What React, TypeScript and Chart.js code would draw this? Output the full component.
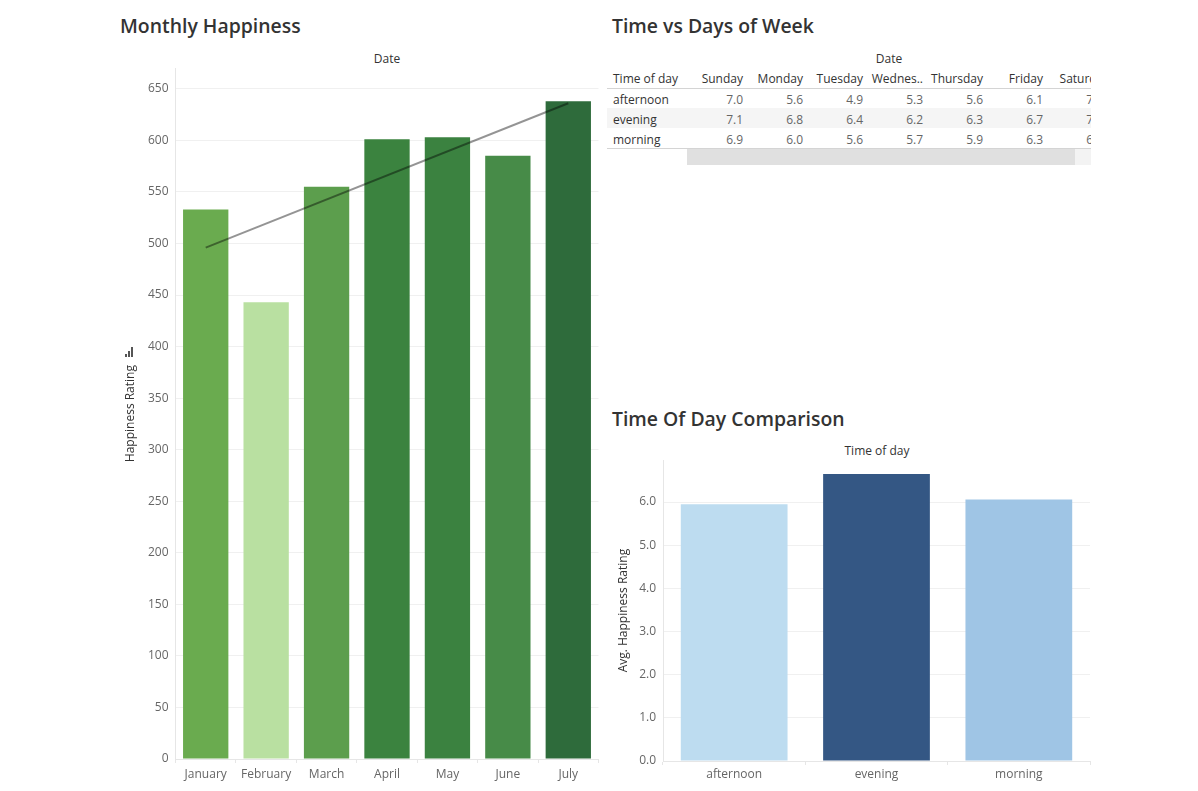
import React, { useEffect, useRef } from 'react';
import { Chart, registerables } from 'chart.js';

Chart.register(...registerables);

// ---------- Data ----------
const months = ['January', 'February', 'March', 'April', 'May', 'June', 'July'];
const monthlyHappiness = [533, 443, 555, 601, 603, 585, 638];
const monthColors = ['#6aab4f', '#b9e0a1', '#5c9e4d', '#3b833f', '#3b8240', '#478b48', '#2e6b3b'];
const trendLine: (number | null)[] = [496, null, null, null, null, null, 636];

const timesOfDay = ['afternoon', 'evening', 'morning'];
const avgHappiness = [5.95, 6.65, 6.06];
const timeColors = ['#bddcf0', '#345784', '#9fc5e5'];

const dayLabels = ['Sunday', 'Monday', 'Tuesday', 'Wednes..', 'Thursday', 'Friday', 'Saturd..'];
const afternoonByDay = [7.0, 5.6, 4.9, 5.3, 5.6, 6.1, 7.1];
const eveningByDay = [7.1, 6.8, 6.4, 6.2, 6.3, 6.7, 7.0];
const morningByDay = [6.9, 6.0, 5.6, 5.7, 5.9, 6.3, 6.0];
const tableRows = [afternoonByDay, eveningByDay, morningByDay];

const FONT = "'Open Sans', 'DejaVu Sans', sans-serif";
Chart.defaults.font.family = FONT;

function MonthlyChart() {
  const ref = useRef<HTMLCanvasElement>(null);
  useEffect(() => {
    const chart = new Chart(ref.current!, {
      type: 'bar',
      data: {
        labels: months,
        datasets: [
          {
            type: 'line',
            data: trendLine as any,
            borderColor: 'rgba(0,0,0,0.42)',
            borderWidth: 2,
            pointRadius: 0,
            spanGaps: true,
            order: 0,
          } as any,
          {
            type: 'bar',
            data: monthlyHappiness,
            backgroundColor: monthColors,
            barPercentage: 0.75,
            categoryPercentage: 1,
            order: 1,
          },
        ],
      },
      options: {
        animation: false,
        responsive: false,
        maintainAspectRatio: false,
        layout: { padding: { top: 6, right: 1.5, left: 0, bottom: 0 } },
        plugins: { legend: { display: false }, tooltip: { enabled: false } },
        scales: {
          x: {
            grid: { drawOnChartArea: false, tickLength: 4, color: '#e6e6e6' },
            border: { color: '#e6e6e6' },
            ticks: { color: '#666', font: { size: 12 }, padding: 4 },
            afterFit: (s: any) => { s.height = 32; },
          },
          y: {
            min: 0,
            max: 670,
            ticks: { stepSize: 50, includeBounds: false, color: '#666', padding: 7, font: { size: 12 } },
            grid: { color: '#f0f0f0', drawTicks: false },
            border: { color: '#e6e6e6' },
            title: { display: true, text: 'Happiness Rating', color: '#333', font: { size: 12 }, padding: { top: 13.5, bottom: 0 } },
            afterFit: (s: any) => { s.width = 65.5; },
          },
        },
      },
    });
    return () => chart.destroy();
  }, []);
  return <canvas ref={ref} width={490} height={737} style={{ position: 'absolute', left: 110, top: 54, width: 490, height: 737 }} />;
}

function TimeOfDayChart() {
  const ref = useRef<HTMLCanvasElement>(null);
  useEffect(() => {
    const chart = new Chart(ref.current!, {
      type: 'bar',
      data: {
        labels: timesOfDay,
        datasets: [
          {
            data: avgHappiness,
            backgroundColor: timeColors,
            barPercentage: 0.75,
            categoryPercentage: 1,
          },
        ],
      },
      options: {
        animation: false,
        responsive: false,
        maintainAspectRatio: false,
        layout: { padding: { top: 5, right: 5, left: 0, bottom: 0 } },
        plugins: { legend: { display: false }, tooltip: { enabled: false } },
        scales: {
          x: {
            grid: { drawOnChartArea: false, tickLength: 4, color: '#e6e6e6' },
            border: { color: '#e6e6e6' },
            ticks: { color: '#666', font: { size: 12 }, padding: 2 },
            afterFit: (s: any) => { s.height = 31; },
          },
          y: {
            min: 0,
            max: 6.97,
            ticks: {
              stepSize: 1,
              includeBounds: false,
              color: '#666',
              padding: 7,
              font: { size: 12 },
              callback: (v: any) => Number(v).toFixed(1),
            },
            grid: { color: '#f0f0f0', drawTicks: false },
            border: { color: '#e6e6e6' },
            title: { display: true, text: 'Avg. Happiness Rating', color: '#333', font: { size: 12 }, padding: { top: 11.8, bottom: 0 } },
            afterFit: (s: any) => { s.width = 58; },
          },
        },
      },
    });
    return () => chart.destroy();
  }, []);
  return <canvas ref={ref} width={490} height={346} style={{ position: 'absolute', left: 605, top: 446, width: 490, height: 346 }} />;
}

const titleStyle: React.CSSProperties = {
  position: 'absolute',
  fontFamily: FONT,
  fontSize: 19.4,
  fontWeight: 600,
  lineHeight: '24px',
  color: '#333',
  whiteSpace: 'nowrap',
};

const smallText: React.CSSProperties = {
  position: 'absolute',
  fontFamily: FONT,
  fontSize: 12,
  lineHeight: '16px',
  whiteSpace: 'nowrap',
};

function DaysTable() {
  const left = 607;
  const colRight0 = 743 - left; // right edge of Sunday column (relative)
  const colW = 60;
  return (
    <div style={{ position: 'absolute', left, top: 48, width: 484, height: 120, overflow: 'hidden' }}>
      <div style={{ ...smallText, left: 282 - 40, width: 80, textAlign: 'center', top: 3, color: '#333' }}>Date</div>
      <div style={{ ...smallText, left: 6, top: 23, color: '#333' }}>Time of day</div>
      {dayLabels.map((d, i) => (
        <div key={d} style={{ ...smallText, left: colRight0 + i * colW - 80, width: 80, textAlign: 'right', top: 23, color: '#333' }}>{d}</div>
      ))}
      <div style={{ position: 'absolute', left: 0, top: 40, width: 484, height: 1, background: '#d4d4d4' }} />
      <div style={{ position: 'absolute', left: 0, top: 60, width: 484, height: 20, background: '#f5f5f5' }} />
      {timesOfDay.map((t, r) => (
        <React.Fragment key={t}>
          <div style={{ ...smallText, left: 6, top: 44 + r * 20, color: '#333' }}>{t}</div>
          {tableRows[r].map((v, i) => (
            <div key={i} style={{ ...smallText, left: colRight0 + i * colW - 60, width: 60, textAlign: 'right', top: 44 + r * 20, color: '#666' }}>{v.toFixed(1)}</div>
          ))}
        </React.Fragment>
      ))}
      <div style={{ position: 'absolute', left: 0, top: 100, width: 484, height: 1, background: '#d4d4d4' }} />
      <div style={{ position: 'absolute', left: 80, top: 101, width: 388, height: 16, background: '#e0e0e0' }} />
      <div style={{ position: 'absolute', left: 468, top: 101, width: 16, height: 16, background: '#f3f3f3' }} />
    </div>
  );
}

export default function App() {
  return (
    <div style={{ position: 'fixed', left: 0, top: 0, width: 1198, height: 791, background: '#fff', overflow: 'hidden', fontFamily: FONT }}>
      <div style={{ ...titleStyle, left: 120, top: 14 }}>Monthly Happiness</div>
      <div style={{ ...titleStyle, left: 612, top: 14 }}>Time vs Days of Week</div>
      <div style={{ ...titleStyle, left: 612, top: 407 }}>Time Of Day Comparison</div>

      <div style={{ ...smallText, left: 387 - 40, width: 80, textAlign: 'center', top: 51, color: '#333' }}>Date</div>
      <div style={{ ...smallText, left: 877 - 50, width: 100, textAlign: 'center', top: 443, color: '#333' }}>Time of day</div>

      <MonthlyChart />
      {/* small sort icon above the axis title */}
      <div style={{ position: 'absolute', left: 125, top: 354, width: 2, height: 3, background: '#555' }} />
      <div style={{ position: 'absolute', left: 128, top: 351, width: 2, height: 6, background: '#555' }} />
      <div style={{ position: 'absolute', left: 131, top: 347, width: 2, height: 10, background: '#555' }} />

      <DaysTable />
      <TimeOfDayChart />
    </div>
  );
}
